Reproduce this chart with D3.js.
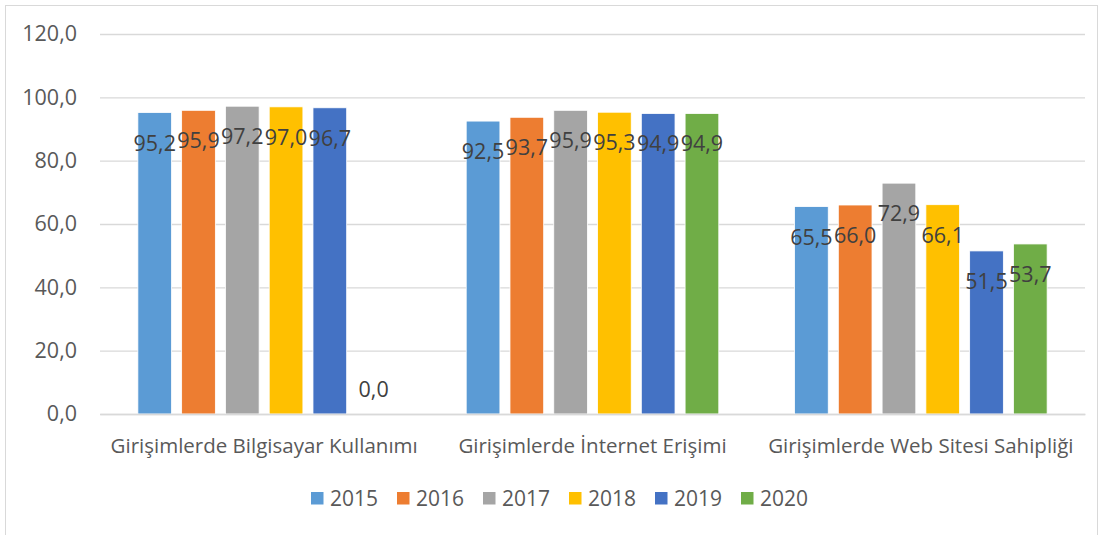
<!DOCTYPE html>
<html>
<head>
<meta charset="utf-8">
<script src="https://cdn.jsdelivr.net/npm/d3@7"></script>
<style>
  html, body { margin: 0; padding: 0; background: #fff; }
  svg { display: block; }
  svg text { font-family: "Open Sans", sans-serif; }
</style>
</head>
<body>
<svg id="chart" width="1104" height="535"></svg>
<script>
// Indicator groups along the x axis
const categories = [
  "Girişimlerde Bilgisayar Kullanımı",
  "Girişimlerde İnternet Erişimi",
  "Girişimlerde Web Sitesi Sahipliği"
];
const years = ["2015", "2016", "2017", "2018", "2019", "2020"];
// One value per category for each year
const v2015 = [95.2, 92.5, 65.5];
const v2016 = [95.9, 93.7, 66.0];
const v2017 = [97.2, 95.9, 72.9];
const v2018 = [97.0, 95.3, 66.1];
const v2019 = [96.7, 94.9, 51.5];
const v2020 = [0.0, 94.9, 53.7];
const yTicks = [0, 20, 40, 60, 80, 100, 120];
const colors = ["#5B9BD5", "#ED7D31", "#A5A5A5", "#FFC000", "#4472C4", "#70AD47"];

const seriesValues = [v2015, v2016, v2017, v2018, v2019, v2020];
const fmt = v => v.toFixed(1).replace(".", ",");
const FONT = '"Open Sans", sans-serif';

const svg = d3.select("#chart");

// Outer chart frame
svg.append("rect")
  .attr("x", 5.5).attr("y", 5.5)
  .attr("width", 1092).attr("height", 540)
  .attr("fill", "#fff").attr("stroke", "#d9d9d9").attr("stroke-width", 1);

const plot = { left: 100, right: 1085, top: 34, bottom: 414 };

const y = d3.scaleLinear().domain([0, 120]).range([plot.bottom, plot.top]);
const x0 = d3.scaleBand().domain(categories)
  .range([plot.left, plot.right]).paddingInner(0.2).paddingOuter(0.1);
const x1 = d3.scaleBand().domain(years)
  .range([0, x0.bandwidth()]).paddingInner(0.23).paddingOuter(0.115);
const color = d3.scaleOrdinal().domain(years).range(colors);

// Horizontal gridlines and value axis labels
const yAxis = d3.axisLeft(y).tickValues(yTicks)
  .tickSize(-(plot.right - plot.left)).tickPadding(23).tickFormat(fmt);
const gy = svg.append("g").attr("transform", `translate(${plot.left},0)`).call(yAxis);
gy.attr("font-family", FONT).attr("font-size", 21.5);
gy.select(".domain").remove();
gy.selectAll(".tick line").attr("stroke", "#d9d9d9").attr("stroke-width", 1.4);
gy.selectAll(".tick text").attr("fill", "#595959");

// Bars grouped by category
const rows = categories.map((c, i) => ({
  category: c,
  values: years.map((yr, j) => ({ year: yr, value: seriesValues[j][i] }))
}));

const groups = svg.append("g").selectAll("g").data(rows).join("g")
  .attr("transform", d => `translate(${x0(d.category)},0)`);

groups.selectAll("rect").data(d => d.values).join("rect")
  .attr("x", d => x1(d.year))
  .attr("y", d => y(d.value))
  .attr("width", x1.bandwidth())
  .attr("height", d => y(0) - y(d.value))
  .attr("fill", d => color(d.year))
  .attr("stroke", "#fff").attr("stroke-width", 0.8);

// Data labels: inside the top of each bar, above it when the bar is too short
groups.selectAll("text").data(d => d.values).join("text")
  .attr("x", d => x1(d.year) + x1.bandwidth() / 2)
  .attr("y", d => {
    const h = y(0) - y(d.value);
    return h > 40 ? y(d.value) + 38 : y(d.value) - 17;
  })
  .attr("text-anchor", "middle")
  .attr("fill", "#404040").attr("font-size", 21.5)
  .text(d => fmt(d.value));

// Category axis labels
const xAxis = d3.axisBottom(x0).tickSize(0).tickPadding(24);
const gx = svg.append("g").attr("transform", `translate(0,${plot.bottom})`).call(xAxis);
gx.attr("font-family", FONT).attr("font-size", 20.5);
gx.select(".domain").attr("stroke", "#d9d9d9").attr("stroke-width", 1.4);
gx.selectAll(".tick text").attr("fill", "#595959");

// Legend
const legendX = d3.scaleBand().domain(years).range([311, 827]);
const legend = svg.append("g").selectAll("g").data(years).join("g")
  .attr("transform", d => `translate(${legendX(d)},492)`);
legend.append("rect")
  .attr("width", 12.5).attr("height", 12.5)
  .attr("fill", d => color(d));
legend.append("text")
  .attr("x", 19).attr("y", 14)
  .attr("fill", "#595959").attr("font-size", 21)
  .text(d => d);
</script>
</body>
</html>
